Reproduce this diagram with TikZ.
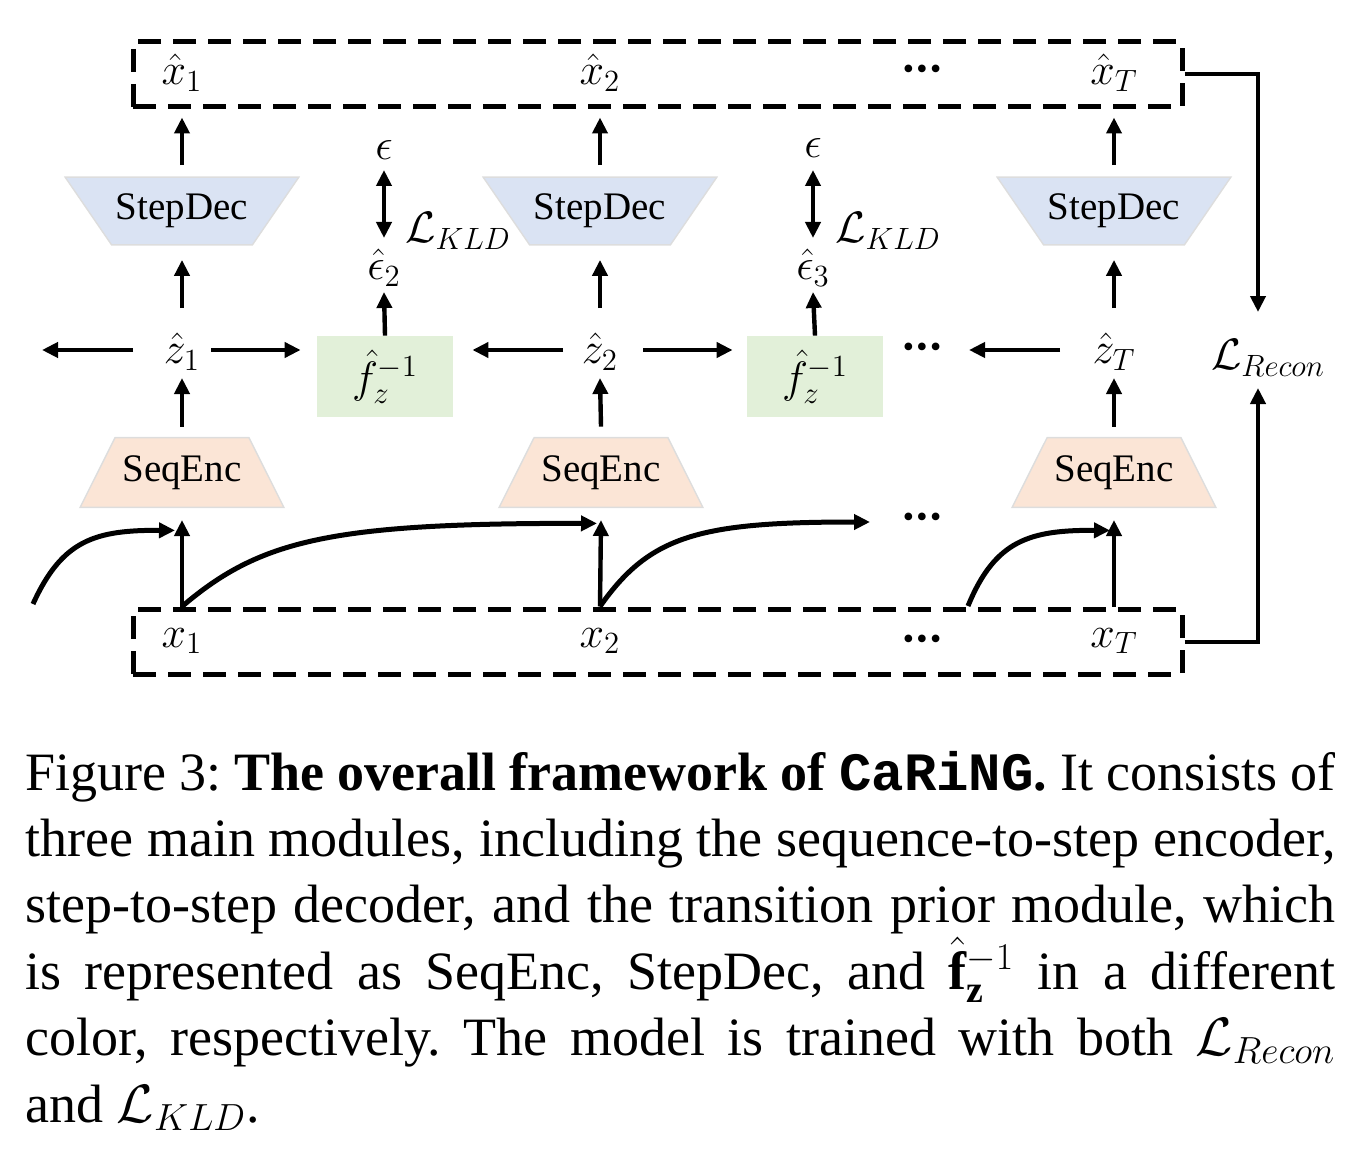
\RequirePackage{fix-cm}
\documentclass[tikz,border=0pt]{standalone}
\usepackage{amsmath}
\usepackage{fontspec}
\setmainfont{Liberation Serif}
\setmonofont{Liberation Mono}
\usetikzlibrary{arrows.meta,calc,backgrounds}

\definecolor{decblue}{HTML}{DAE3F3}
\definecolor{encpeach}{HTML}{FBE5D6}
\definecolor{fgreen}{HTML}{E2F0D9}
\definecolor{shapeedge}{HTML}{DDDDDD}

\newcommand\mydots{{\fontsize{16}{16}\selectfont\textbullet\hspace{1.2pt}\textbullet\hspace{1.2pt}\textbullet}}

\tikzset{
  mathlbl/.style={inner sep=0pt, font=\fontsize{22}{25}\selectfont},
  modtext/.style={inner sep=0pt, font=\fontsize{19.5}{23}\selectfont},
  encnode/.style={modtext, minimum width=101.5pt, minimum height=34.5pt},
  decnode/.style={modtext, minimum width=116.5pt, minimum height=33.5pt},
  fbox/.style={fill=fgreen, minimum width=68pt, minimum height=40.5pt, inner sep=0pt, font=\fontsize{22}{25}\selectfont},
  dashbox/.style={draw, line width=2.5pt, dash pattern=on 11.5pt off 6pt, minimum width=524.5pt, minimum height=32.5pt, inner sep=0pt},
  arr/.style={line width=2.2pt, -{Triangle[length=8pt,width=7.5pt]}},
  dblarr/.style={line width=2.2pt, {Triangle[length=8pt,width=7.5pt]}-{Triangle[length=8pt,width=7.5pt]}},
  curvearr/.style={line width=2.5pt, -{Triangle[length=8pt,width=7.5pt]}},
  reconarr/.style={line width=2pt, -{Triangle[length=8pt,width=7.5pt]}},
  encshape/.style={fill=encpeach, draw=shapeedge, line width=0.7pt},
  decshape/.style={fill=decblue, draw=shapeedge, line width=0.7pt},
}

\begin{document}
\begin{tikzpicture}[x=0.5pt,y=-0.5pt]
\useasboundingbox (0,0) rectangle (1370,1150);

% dashed boxes
\node[dashbox] (xhbox) at (657.5,74.5) {};
\node[dashbox] (xbox) at (657.5,641.5) {};

% top row labels
\node[mathlbl] (xh1) at (182,73) {$\hat{x}_1$};
\node[mathlbl] (xh2) at (600,73) {$\hat{x}_2$};
\node[inner sep=0pt] (xhd) at (922,72) {\mydots};
\node[mathlbl] (xhT) at (1114,73) {$\hat{x}_T$};

% decoders
\node[decnode] (dec1) at (182,211) {StepDec};
\node[decnode] (dec2) at (600,211) {StepDec};
\node[decnode] (dec3) at (1114,211) {StepDec};

% epsilons
\node[mathlbl] (eps1) at (384,150) {$\epsilon$};
\node[mathlbl] (epsh1) at (384,268) {$\hat{\epsilon}_2$};
\node[mathlbl] (kld1) at (458,231) {$\mathcal{L}_{KLD}$};
\node[mathlbl] (eps2) at (813,148) {$\epsilon$};
\node[mathlbl] (epsh2) at (813,268) {$\hat{\epsilon}_3$};
\node[mathlbl] (kld2) at (888,231) {$\mathcal{L}_{KLD}$};

% latent row
\node[mathlbl] (z1) at (182,352) {$\hat{z}_1$};
\node[mathlbl] (z2) at (600,352) {$\hat{z}_2$};
\node[inner sep=0pt] (zd) at (922,350) {\mydots};
\node[mathlbl] (zT) at (1114,352) {$\hat{z}_T$};
\node[fbox] (f1) at (385,376.5) {$\hat{f}_z^{-1}$};
\node[fbox] (f2) at (815,376.5) {$\hat{f}_z^{-1}$};

% encoders
\node[encnode] (enc1) at (182,472.5) {SeqEnc};
\node[encnode] (enc2) at (601,472.5) {SeqEnc};
\node[encnode] (enc3) at (1114,472.5) {SeqEnc};
\node[inner sep=0pt] (cd) at (922,520) {\mydots};

% bottom row labels
\node[mathlbl] (x1) at (182,641) {$x_1$};
\node[mathlbl] (x2) at (600,641) {$x_2$};
\node[inner sep=0pt] (xd) at (922,642) {\mydots};
\node[mathlbl] (xT) at (1114,641) {$x_T$};

% recon
\node[mathlbl] (recon) at (1268,358) {$\mathcal{L}_{Recon}$};

% trapezoid backgrounds
\begin{pgfonlayer}{background}
\foreach \n in {enc1,enc2,enc3}{
  \path[encshape] (\n.south west) -- (\n.south east) -- ($(\n.north east)+(-35,0)$) -- ($(\n.north west)+(35,0)$) -- cycle;
}
\foreach \n in {dec1,dec2,dec3}{
  \path[decshape] (\n.north west) -- (\n.north east) -- ($(\n.south east)+(-46.5,0)$) -- ($(\n.south west)+(46.5,0)$) -- cycle;
}
\end{pgfonlayer}

% vertical arrows per column
\foreach \e/\z/\d/\x in {enc1/z1/dec1/x1, enc2/z2/dec2/x2, enc3/zT/dec3/xT}{
  \draw[arr] (xbox.north -| \x) -- ($(\e.south |- \x)+(0,-121)$);
  \draw[arr] ($(\e.north)+(0,-11)$) -- ($(\z)+(0,26)$);
  \draw[arr] ($(\z)+(0,-44)$) -- ($(\d.south)+(0,15)$);
  \draw[arr] ($(\d.north)+(0,-12)$) -- ($(xhbox.south -| \d)+(0,8)$);
}

% transition prior arrows
\draw[arr] (f1.north) -- ($(epsh1)+(0,24)$);
\draw[arr] (f2.north) -- ($(epsh2)+(0,24)$);
\draw[dblarr] ($(eps1)+(0,20)$) -- ($(epsh1)+(0,-30)$);
\draw[dblarr] ($(eps2)+(0,22)$) -- ($(epsh2)+(0,-30)$);

% horizontal arrows
\coordinate (lend) at (42,350);
\draw[arr] ($(z1)+(-49,-2)$) -- (lend);
\draw[arr] ($(z1)+(29,-2)$) -- ($(f1.west |- z1)+(-16,-2)$);
\draw[arr] ($(z2)+(-37,-2)$) -- ($(f1.east |- z2)+(19,-2)$);
\draw[arr] ($(z2)+(43,-2)$) -- ($(f2.west |- z2)+(-14,-2)$);
\draw[arr] ($(zT)+(-54,-2)$) -- ($(zd)+(47,0)$);

% reconstruction loss
\coordinate (rtop) at (1258,312);
\coordinate (rbot) at (1258,388);
\draw[reconarr] (xhbox.east) -| (rtop);
\draw[reconarr] (xbox.east) -| (rbot);

% curved arrows
\coordinate (c0s) at (33,604);
\coordinate (c3s) at (968,606);
\draw[curvearr] (c0s) .. controls (62,540) and (95,530) .. ($(enc1.south)+(-7,23)$);
\draw[curvearr] (xbox.north -| x1) .. controls (260,540) and (330,523) .. ($(enc2.south)+(-4,16)$);
\draw[curvearr] (xbox.north -| x2) .. controls (650,535) and (700,522) .. ($(cd)+(-52,2)$);
\draw[curvearr] (c3s) .. controls (995,540) and (1030,530) .. ($(enc3.south)+(-4,23)$);

% caption
\node[anchor=base west, inner sep=0pt, text width=655pt, align=justify,
      font=\fontsize{27}{33.2}\selectfont] (cap) at (25,790)
{\hyphenpenalty=10000\frenchspacing Figure 3: \textbf{The overall framework of \texttt{CaRiNG}.} It consists of\linebreak
three main modules, including the sequence-to-step encoder,\linebreak
step-to-step decoder, and the transition prior module, which\linebreak
is represented as SeqEnc, StepDec, and $\hat{\mathbf{f}}_{\mathbf{z}}^{-1}$ in a different\linebreak
color, respectively. The model is trained with both $\mathcal{L}_{Recon}$\linebreak
and $\mathcal{L}_{KLD}$.};
\end{tikzpicture}
\end{document}
